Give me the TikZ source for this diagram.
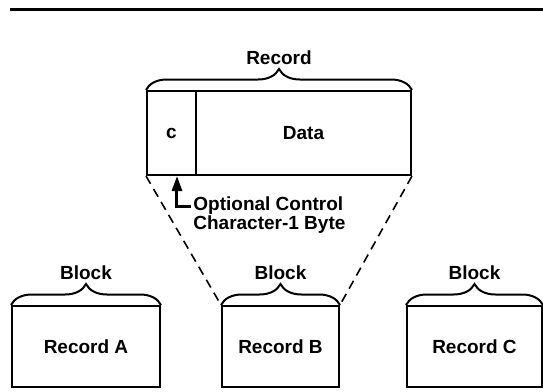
\documentclass[tikz,border=0pt]{standalone}
\usepackage{fontspec}
\setmainfont{Liberation Sans}
\usepackage{tikz}
\usetikzlibrary{arrows.meta}
\usetikzlibrary{decorations,decorations.pathreplacing}
\usetikzlibrary{calc}
\tikzstyle{boxed}=[draw, line width=1pt, inner sep=0pt]
\tikzstyle{lbl}=[font=\bfseries\fontsize{9.5}{9.8}\selectfont]
\tikzstyle{curly}=[decorate, decoration={brace, amplitude=10.5pt}, line width=1pt]
\tikzstyle{dashline}=[line width=0.8pt, dash pattern=on 4.5pt off 3pt]
\newcommand{\topBrace}[2]{
	\draw[curly] (#1.north west) -- (#1.north east);
	\node[lbl] (#1lbl) at ($(#1.north)+(0,-32)$) {#2};
}

\begin{document}
\begin{tikzpicture}[x=0.5pt, y=-0.5pt]
	\useasboundingbox (0,0) rectangle (543,392);
	\draw[line width=1.5pt] (10,9) -- (543,9);
	% the record, with its control character
	\node[boxed, minimum width=132pt, minimum height=42pt] (rec) at (279,133) {};
	\coordinate (div) at (196,133);
	\draw[line width=1pt] (div |- rec.north) -- (div |- rec.south);
	\node[lbl] (ctl) at (171.5,133) {c};
	\node[lbl] (data) at (303.5,133) {Data};
	\topBrace{rec}{Record}
	% the three blocks
	\node[boxed, lbl, minimum width=74pt, minimum height=40.5pt] (recA) at (86,346.5) {Record A};
	\node[boxed, lbl, minimum width=58.5pt, minimum height=40.5pt] (recB) at (280.5,346.5) {Record B};
	\node[boxed, lbl, minimum width=67.5pt, minimum height=40.5pt] (recC) at (474.5,346.5) {Record C};
	\topBrace{recA}{Block}
	\topBrace{recB}{Block}
	\topBrace{recC}{Block}
	\draw[dashline] (rec.south west) -- (recB.north west);
	\draw[dashline] (rec.south east) -- (recB.north east);
	% note on the control character
	\node[lbl, anchor=west, align=left, inner sep=1pt] (opt) at (191,215) {Optional Control\\Character-1 Byte};
	\coordinate (bend) at (177,206);
	\draw[line width=1.5pt, -{Triangle[length=7.5pt, width=5pt]}] (opt.west |- bend) -- (bend) -- (bend |- rec.south);
\end{tikzpicture}
\end{document}
